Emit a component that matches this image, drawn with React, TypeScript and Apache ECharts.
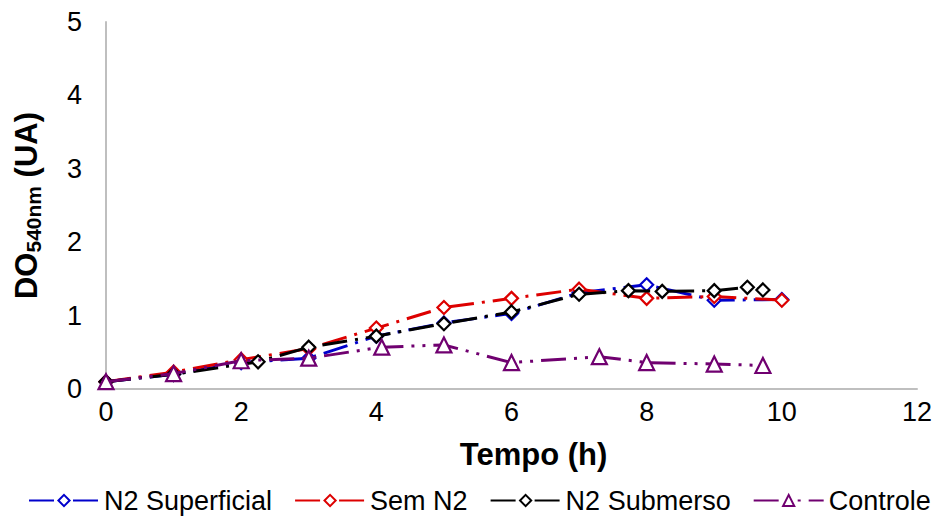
import React, { useEffect, useRef } from "react";
import * as echarts from "echarts";

const seriesNames = ["N2 Superficial", "Sem N2", "N2 Submerso", "Controle"];
const colors = ["#0000CC", "#DD0000", "#000000", "#700070"];

const superficialT = [0, 1, 2, 3, 4, 5, 6, 7, 8, 9, 10];
const superficialV = [0.1, 0.2, 0.36, 0.42, 0.72, 0.9, 1.03, 1.31, 1.42, 1.21, 1.22];

const semT = [0, 1, 2, 3, 4, 5, 6, 7, 8, 9, 10];
const semV = [0.1, 0.23, 0.4, 0.55, 0.83, 1.11, 1.235, 1.36, 1.235, 1.26, 1.21];

const submersoT = [0, 1, 2.25, 3, 4, 5, 6, 7, 7.73, 8.23, 9, 9.49, 9.72];
const submersoV = [0.1, 0.2, 0.37, 0.57, 0.72, 0.89, 1.05, 1.29, 1.34, 1.33, 1.34, 1.385, 1.35];

const controleT = [0, 1, 2, 3, 4.08, 5, 6, 7.3, 8, 9, 9.72];
const controleV = [0.1, 0.21, 0.385, 0.42, 0.57, 0.6, 0.36, 0.44, 0.36, 0.34, 0.32];

const xTicks = [0, 2, 4, 6, 8, 10, 12];
const yTicks = [0, 1, 2, 3, 4, 5];

const zip = (t: number[], v: number[]) => t.map((x, i) => [x, v[i]]);

export default function App() {
  const ref = useRef<HTMLDivElement>(null);
  useEffect(() => {
    document.body.style.margin = "0";
    const chart = echarts.init(ref.current!, undefined, { renderer: "svg" });
    const font = "'Liberation Sans', Arial, sans-serif";
    const dashDot = [25, 8, 3, 8];
    const dashDotDot = [25, 8, 3, 8, 3, 8];
    const mk = (i: number, data: number[][], symbol: string, size: number, dash: number[]) => ({
      name: seriesNames[i],
      type: "line",
      data,
      symbol,
      symbolSize: size,
      showAllSymbol: true,
      color: colors[i],
      itemStyle: { color: "#ffffff", borderColor: colors[i], borderWidth: 2.2 },
      lineStyle: { color: colors[i], width: 3, type: dash },
      z: 2 + i,
    });
    chart.setOption({
      animation: false,
      backgroundColor: "#ffffff",
      textStyle: { fontFamily: font },
      grid: { left: 106, right: 25, top: 22, bottom: 129 },
      legend: {
        top: 485,
        left: 26,
        padding: [2, 2, 2, 2],
        itemWidth: 70,
        itemHeight: 14,
        itemGap: 22,
        textStyle: { fontSize: 27, color: "#000", fontFamily: font },
        data: seriesNames,
      },
      xAxis: {
        type: "value",
        min: xTicks[0],
        max: xTicks[xTicks.length - 1],
        interval: 2,
        splitLine: { show: false },
        axisTick: { show: false },
        axisLine: { show: true, lineStyle: { color: "#BFBFBF", width: 2 } },
        axisLabel: { fontSize: 27, color: "#000", margin: 9, fontFamily: font },
        name: "Tempo (h)",
        nameLocation: "middle",
        nameGap: 50,
        nameTextStyle: { fontSize: 31, fontWeight: "bold", color: "#000", padding: [0, 0, 0, 44], fontFamily: font },
      },
      yAxis: {
        type: "value",
        min: yTicks[0],
        max: yTicks[yTicks.length - 1],
        interval: 1,
        splitLine: { show: false },
        axisTick: { show: false },
        axisLine: { show: true, lineStyle: { color: "#BFBFBF", width: 2 } },
        axisLabel: { fontSize: 27, color: "#000", margin: 24, fontFamily: font },
        name: "{a|DO}{b|540nm}{a| (UA)}",
        nameLocation: "middle",
        nameGap: 62,
        nameRotate: 90,
        nameTextStyle: {
          color: "#000",
          fontFamily: font,
          rich: {
            a: { fontSize: 31, fontWeight: "bold", color: "#000", fontFamily: font, lineHeight: 36 },
            b: { fontSize: 21, fontWeight: "bold", color: "#000", fontFamily: font, lineHeight: 36, verticalAlign: "bottom", padding: [13, 0, 0, 0] },
          },
        },
      },
      series: [
        mk(0, zip(superficialT, superficialV), "diamond", 13, dashDot),
        mk(1, zip(semT, semV), "diamond", 13, dashDot),
        mk(2, zip(submersoT, submersoV), "diamond", 13, dashDot),
        mk(3, zip(controleT, controleV), "triangle", 15, dashDotDot),
      ],
    });
    return () => chart.dispose();
  }, []);
  return <div ref={ref} style={{ position: "fixed", left: 0, top: 0, width: 942, height: 518 }} />;
}
